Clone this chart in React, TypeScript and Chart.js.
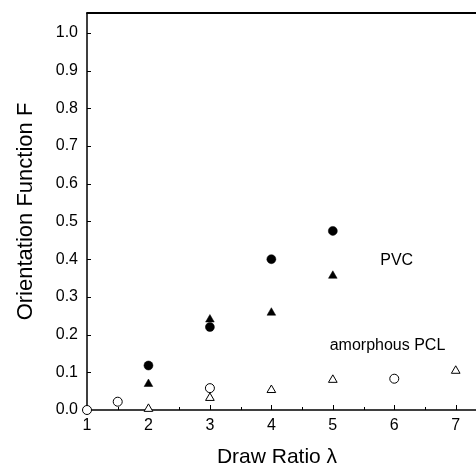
import React, { useEffect, useRef } from 'react';
import { Chart, registerables } from 'chart.js';

Chart.register(...registerables);

// ---- data ----
const pvcCircleX = [2, 3, 4, 5];
const pvcCircleY = [0.118, 0.22, 0.4, 0.475];
const pvcTriangleX = [2, 3, 4, 5];
const pvcTriangleY = [0.069, 0.24, 0.258, 0.356];
const pclCircleX = [1, 1.5, 3, 6];
const pclCircleY = [0.0, 0.022, 0.058, 0.083];
const pclTriangleX = [2, 3, 4, 5, 7];
const pclTriangleY = [0.003, 0.032, 0.053, 0.08, 0.104];

const xTickValues = [1, 2, 3, 4, 5, 6, 7];
const xMinorTickValues = [1.5, 2.5, 3.5, 4.5, 5.5, 6.5];
const yTickValues = [0.0, 0.1, 0.2, 0.3, 0.4, 0.5, 0.6, 0.7, 0.8, 0.9, 1.0];

const xTitle = 'Draw Ratio λ';
const yTitle = 'Orientation Function F';
const noteTexts = ['PVC', 'amorphous PCL'];

const FONT = '"Liberation Sans", Arial, Helvetica, sans-serif';

function toPoints(xs: number[], ys: number[]) {
  return xs.map((x, i) => ({ x, y: ys[i] }));
}

const framePlugin = {
  id: 'frameAndText',
  beforeDatasetsDraw(chart: any) {
    const { ctx, chartArea } = chart;
    const { left, right, top, bottom } = chartArea;
    const xs = chart.scales.x;
    const ys = chart.scales.y;
    ctx.save();
    ctx.strokeStyle = '#000';
    ctx.lineCap = 'butt';
    ctx.lineWidth = 1.5;
    ctx.beginPath();
    ctx.moveTo(left, top);
    ctx.lineTo(left, bottom);
    ctx.lineTo(right, bottom);
    ctx.stroke();
    ctx.lineWidth = 2;
    ctx.beginPath();
    ctx.moveTo(left - 0.75, top);
    ctx.lineTo(right, top);
    ctx.stroke();
    ctx.lineWidth = 1;
    yTickValues.forEach((v) => {
      if (v === 0) return;
      const y = Math.round(ys.getPixelForValue(v)) + 0.5;
      ctx.beginPath();
      ctx.moveTo(left, y);
      ctx.lineTo(left + 4, y);
      ctx.stroke();
    });
    xTickValues.forEach((v) => {
      if (v === 1) return;
      const x = Math.round(xs.getPixelForValue(v)) + 0.5;
      ctx.beginPath();
      ctx.moveTo(x, bottom);
      ctx.lineTo(x, bottom - 5);
      ctx.stroke();
    });
    xMinorTickValues.forEach((v) => {
      const x = Math.round(xs.getPixelForValue(v)) + 0.5;
      ctx.beginPath();
      ctx.moveTo(x, bottom);
      ctx.lineTo(x, bottom - 3);
      ctx.stroke();
    });
    ctx.restore();
  },
  afterDraw(chart: any) {
    const { ctx, chartArea } = chart;
    const xs = chart.scales.x;
    const ys = chart.scales.y;
    ctx.save();
    ctx.fillStyle = '#000';
    ctx.textAlign = 'center';
    ctx.textBaseline = 'middle';
    ctx.font = `21px ${FONT}`;
    ctx.fillText(xTitle, 277, 457);
    ctx.save();
    ctx.font = `22px ${FONT}`;
    ctx.translate(26, (chartArea.top + chartArea.bottom) / 2);
    ctx.rotate(-Math.PI / 2);
    ctx.fillText(yTitle, 0, 0);
    ctx.restore();
    ctx.font = `16px ${FONT}`;
    ctx.fillText(noteTexts[0], xs.getPixelForValue(6.04), ys.getPixelForValue(0.395));
    ctx.fillText(noteTexts[1], xs.getPixelForValue(5.89), ys.getPixelForValue(0.17));
    ctx.restore();
  },
};

export default function App() {
  const canvasRef = useRef<HTMLCanvasElement | null>(null);

  useEffect(() => {
    const canvas = canvasRef.current;
    if (!canvas) return;
    const chart = new Chart(canvas, {
      type: 'scatter',
      data: {
        datasets: [
          {
            label: 'PCL open triangle',
            data: toPoints(pclTriangleX, pclTriangleY),
            pointStyle: 'triangle',
            pointRadius: 5,
            backgroundColor: '#fff',
            borderColor: '#000',
            borderWidth: 1,
            clip: false,
          },
          {
            label: 'PCL open circle',
            data: toPoints(pclCircleX, pclCircleY),
            pointStyle: 'circle',
            pointRadius: 4.5,
            backgroundColor: '#fff',
            borderColor: '#000',
            borderWidth: 1,
            clip: false,
          },
          {
            label: 'PVC triangle',
            data: toPoints(pvcTriangleX, pvcTriangleY),
            pointStyle: 'triangle',
            pointRadius: 5,
            backgroundColor: '#000',
            borderColor: '#000',
            borderWidth: 0.5,
            clip: false,
          },
          {
            label: 'PVC circle',
            data: toPoints(pvcCircleX, pvcCircleY),
            pointStyle: 'circle',
            pointRadius: 4.5,
            backgroundColor: '#000',
            borderColor: '#000',
            borderWidth: 0.5,
            clip: false,
          },
        ],
      },
      options: {
        animation: false,
        responsive: false,
        devicePixelRatio: 1,
        layout: { autoPadding: false, padding: { top: 13, right: 0, left: 0, bottom: 0 } },
        plugins: {
          legend: { display: false },
          tooltip: { enabled: false },
        },
        scales: {
          x: {
            type: 'linear',
            min: 1,
            max: 7.33,
            grid: { display: false, drawTicks: false },
            border: { display: false },
            afterBuildTicks: (scale: any) => {
              scale.ticks = xTickValues.map((v) => ({ value: v }));
            },
            afterFit: (scale: any) => {
              scale.height = 58;
              scale.paddingLeft = 0;
              scale.paddingRight = 0;
            },
            ticks: {
              color: '#000',
              font: { family: FONT, size: 16 },
              padding: 6,
              maxRotation: 0,
              autoSkip: false,
              callback: (v: any) => String(v),
            },
          },
          y: {
            type: 'linear',
            min: 0,
            max: 1.053,
            grid: { display: false, drawTicks: false },
            border: { display: false },
            afterBuildTicks: (scale: any) => {
              scale.ticks = yTickValues.map((v) => ({ value: v }));
            },
            afterFit: (scale: any) => {
              scale.width = 87;
              scale.paddingTop = 0;
              scale.paddingBottom = 0;
            },
            ticks: {
              color: '#000',
              font: { family: FONT, size: 16 },
              padding: 9,
              autoSkip: false,
              callback: (v: any) => Number(v).toFixed(1),
            },
          },
        },
      },
      plugins: [framePlugin],
    } as any);
    return () => chart.destroy();
  }, []);

  return (
    <div style={{ position: 'absolute', left: 0, top: 0, width: 476, height: 468, background: '#fff' }}>
      <canvas ref={canvasRef} width={476} height={468} style={{ width: 476, height: 468, display: 'block' }} />
    </div>
  );
}
